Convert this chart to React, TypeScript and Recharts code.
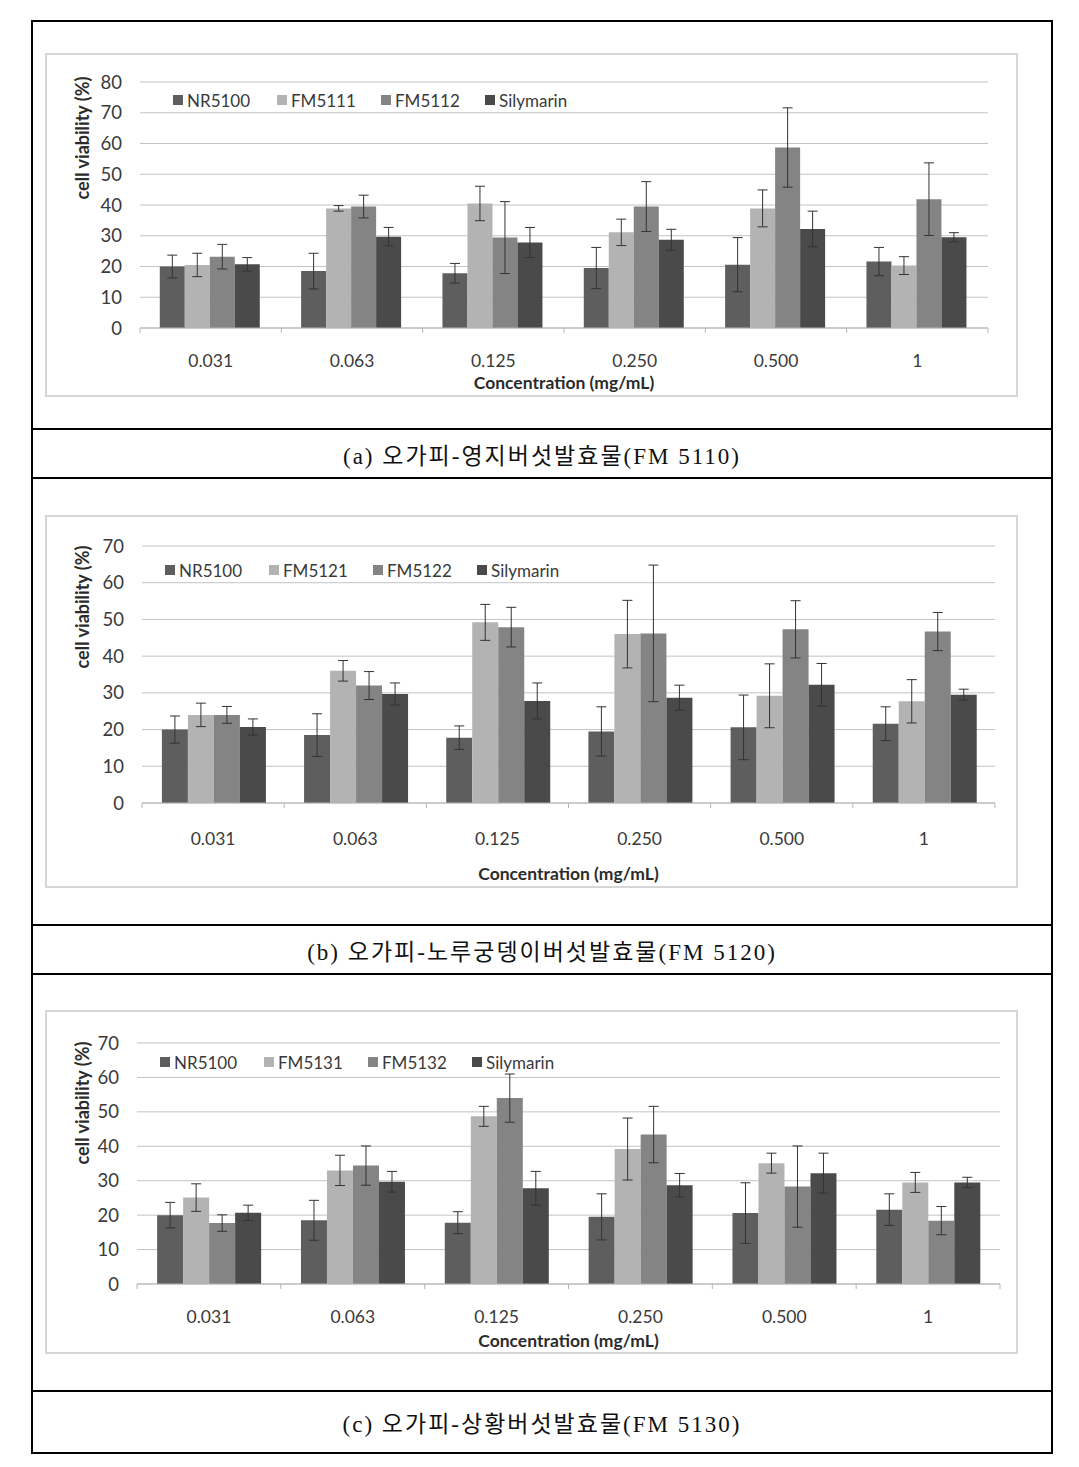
import React from "react";
import { Bar, BarChart, CartesianGrid, ErrorBar, Label, XAxis, YAxis } from "recharts";

const concentrations = ["0.031", "0.063", "0.125", "0.250", "0.500", "1"];

// controls, shared by all three panels
const nr5100 = [20.0, 18.5, 17.8, 19.5, 20.6, 21.6];
const nr5100Err = [3.7, 5.8, 3.2, 6.7, 8.8, 4.6];
const silymarin = [20.7, 29.7, 27.8, 28.7, 32.2, 29.5];
const silymarinErr = [2.2, 3.0, 4.9, 3.4, 5.8, 1.5];

// (a) FM 5110
const fm5111 = [20.5, 38.9, 40.5, 31.1, 38.9, 20.3];
const fm5111Err = [3.8, 0.9, 5.6, 4.3, 6.0, 2.9];
const fm5112 = [23.2, 39.5, 29.4, 39.5, 58.7, 41.9];
const fm5112Err = [4.0, 3.7, 11.7, 8.1, 12.9, 11.8];

// (b) FM 5120
const fm5121 = [24.0, 36.0, 49.2, 46.0, 29.2, 27.7];
const fm5121Err = [3.2, 2.8, 4.9, 9.2, 8.7, 5.9];
const fm5122 = [24.0, 32.0, 47.9, 46.2, 47.3, 46.7];
const fm5122Err = [2.3, 3.8, 5.4, 18.6, 7.8, 5.2];

// (c) FM 5130
const fm5131 = [25.1, 33.0, 48.7, 39.2, 35.1, 29.5];
const fm5131Err = [4.0, 4.4, 2.9, 9.0, 2.9, 2.9];
const fm5132 = [17.7, 34.4, 54.0, 43.4, 28.3, 18.4];
const fm5132Err = [2.4, 5.7, 7.0, 8.2, 11.8, 4.1];

const ticks80 = [0, 10, 20, 30, 40, 50, 60, 70, 80];
const ticks70 = [0, 10, 20, 30, 40, 50, 60, 70];

const captions = [
  "(a) 오가피-영지버섯발효물(FM 5110)",
  "(b) 오가피-노루궁뎅이버섯발효물(FM 5120)",
  "(c) 오가피-상황버섯발효물(FM 5130)",
];

const COLORS = ["#5e5e5e", "#b3b3b3", "#848484", "#4a4a4a"];
const FONT = "Lato, 'Open Sans', sans-serif";
const FRAME_LEFT = 45;
const FRAME_W = 973;
const Y_AXIS_W = 45;

const panels = [
  {
    names: ["NR5100", "FM5111", "FM5112", "Silymarin"],
    s1: fm5111, s1Err: fm5111Err, s2: fm5112, s2Err: fm5112Err,
    ticks: ticks80, top: 53, height: 344,
    margin: { top: 29, right: 30, left: 50, bottom: 0 }, xh: 69,
    tickDy: 32, titleDy: 54, legendTop: 47, legendLeft: 128, yTitleY: 85,
  },
  {
    names: ["NR5100", "FM5121", "FM5122", "Silymarin"],
    s1: fm5121, s1Err: fm5121Err, s2: fm5122, s2Err: fm5122Err,
    ticks: ticks70, top: 515, height: 373,
    margin: { top: 31, right: 23, left: 52, bottom: 0 }, xh: 85,
    tickDy: 35, titleDy: 70, legendTop: 55, legendLeft: 120, yTitleY: 92,
  },
  {
    names: ["NR5100", "FM5131", "FM5132", "Silymarin"],
    s1: fm5131, s1Err: fm5131Err, s2: fm5132, s2Err: fm5132Err,
    ticks: ticks70, top: 1010, height: 344,
    margin: { top: 33, right: 18, left: 47, bottom: 0 }, xh: 70,
    tickDy: 32, titleDy: 56, legendTop: 52, legendLeft: 115, yTitleY: 93,
  },
];

function Panel({ p }: { p: (typeof panels)[number] }) {
  const data = concentrations.map((c, i) => ({
    conc: c,
    nr: nr5100[i], nrErr: nr5100Err[i],
    s1: p.s1[i], s1Err: p.s1Err[i],
    s2: p.s2[i], s2Err: p.s2Err[i],
    sil: silymarin[i], silErr: silymarinErr[i],
  }));
  const plotLeft = p.margin.left + Y_AXIS_W;
  const plotW = FRAME_W - plotLeft - p.margin.right;
  const band = plotW / concentrations.length;
  const last = concentrations.length - 1;

  const XTick = (props: any) => {
    const { x, y, payload, index } = props;
    return (
      <g>
        <line x1={x - band / 2} y1={y} x2={x - band / 2} y2={y + 5} stroke="#b5b5b5" />
        {index === last && <line x1={x + band / 2} y1={y} x2={x + band / 2} y2={y + 5} stroke="#b5b5b5" />}
        <text x={x} y={y + p.tickDy} textAnchor="middle" dominantBaseline="central" fill="#3a3a3a" fontSize={17.5} fontFamily={FONT}>
          {payload.value}
        </text>
      </g>
    );
  };

  const keys = ["nr", "s1", "s2", "sil"];

  return (
    <div style={{ position: "absolute", left: FRAME_LEFT, top: p.top, width: FRAME_W, height: p.height }}>
      <BarChart width={FRAME_W} height={p.height} data={data} margin={p.margin} barCategoryGap="14%" barGap={0}>
        <CartesianGrid vertical={false} stroke="#c3c3c3" />
        <XAxis dataKey="conc" height={p.xh} tickLine={false} tickSize={0} tickMargin={0} axisLine={{ stroke: "#b5b5b5" }} tick={XTick} interval={0}>
          <Label
            content={() => (
              <text x={plotLeft + plotW / 2} y={p.height - p.xh + p.titleDy} textAnchor="middle" dominantBaseline="central" fontSize={17.5} fontWeight={700} fill="#2b2b2b" fontFamily={FONT}>
                Concentration (mg/mL)
              </text>
            )}
          />
        </XAxis>
        <YAxis width={Y_AXIS_W} domain={[0, p.ticks[p.ticks.length - 1]]} ticks={p.ticks} interval={0} axisLine={false} tickLine={false} tickSize={0} tickMargin={18} tick={{ fill: "#3a3a3a", fontSize: 18.5, fontFamily: FONT }}>
          <Label
            content={() => (
              <text x={37} y={p.yTitleY} transform={`rotate(-90 37 ${p.yTitleY})`} textAnchor="middle" dominantBaseline="central" fontSize={18} fontWeight={700} fill="#2b2b2b" fontFamily={FONT}>
                cell viability (%)
              </text>
            )}
          />
        </YAxis>
        {keys.map((k, i) => (
          <Bar key={k} dataKey={k} name={p.names[i]} fill={COLORS[i]} isAnimationActive={false}>
            <ErrorBar dataKey={`${k}Err`} width={5} stroke="#333" strokeWidth={1} direction="y" />
          </Bar>
        ))}
      </BarChart>
      <div style={{ position: "absolute", left: p.legendLeft, top: p.legendTop - 11, height: 22, display: "flex", alignItems: "center", fontFamily: FONT, fontSize: 17, color: "#3a3a3a" }}>
        {p.names.map((n, i) => (
          <div key={n} style={{ width: 104, display: "flex", alignItems: "center" }}>
            <span style={{ display: "inline-block", width: 10, height: 10, background: COLORS[i], marginRight: 4 }} />
            <span>{n}</span>
          </div>
        ))}
      </div>
      <div style={{ position: "absolute", inset: 0, border: "2px solid #d6d6d6", boxSizing: "border-box", pointerEvents: "none" }} />
    </div>
  );
}

const hLines = [21, 429, 478, 925, 974, 1391, 1453];
const captionRows = [
  [429, 478],
  [925, 974],
  [1391, 1453],
];

export default function App() {
  return (
    <div style={{ position: "absolute", left: 0, top: 0, width: 1079, height: 1467, background: "#fff" }}>
      <div style={{ position: "absolute", left: 31, top: 20, width: 2, height: 1434, background: "#000" }} />
      <div style={{ position: "absolute", left: 1051, top: 20, width: 2, height: 1434, background: "#000" }} />
      {hLines.map((y) => (
        <div key={y} style={{ position: "absolute", left: 31, top: y - 1, width: 1022, height: 2, background: "#000" }} />
      ))}
      {captionRows.map(([a, b], i) => (
        <div
          key={i}
          style={{
            position: "absolute", left: 33, width: 1018, top: a + 1, height: b - a - 2,
            display: "flex", alignItems: "center", justifyContent: "center",
            fontFamily: "'Liberation Serif', 'Noto Sans CJK KR', serif", fontSize: 23, letterSpacing: 2, color: "#111",
            whiteSpace: "pre",
          }}
        >
          {captions[i]}
        </div>
      ))}
      {panels.map((p, i) => (
        <Panel key={i} p={p} />
      ))}
    </div>
  );
}
